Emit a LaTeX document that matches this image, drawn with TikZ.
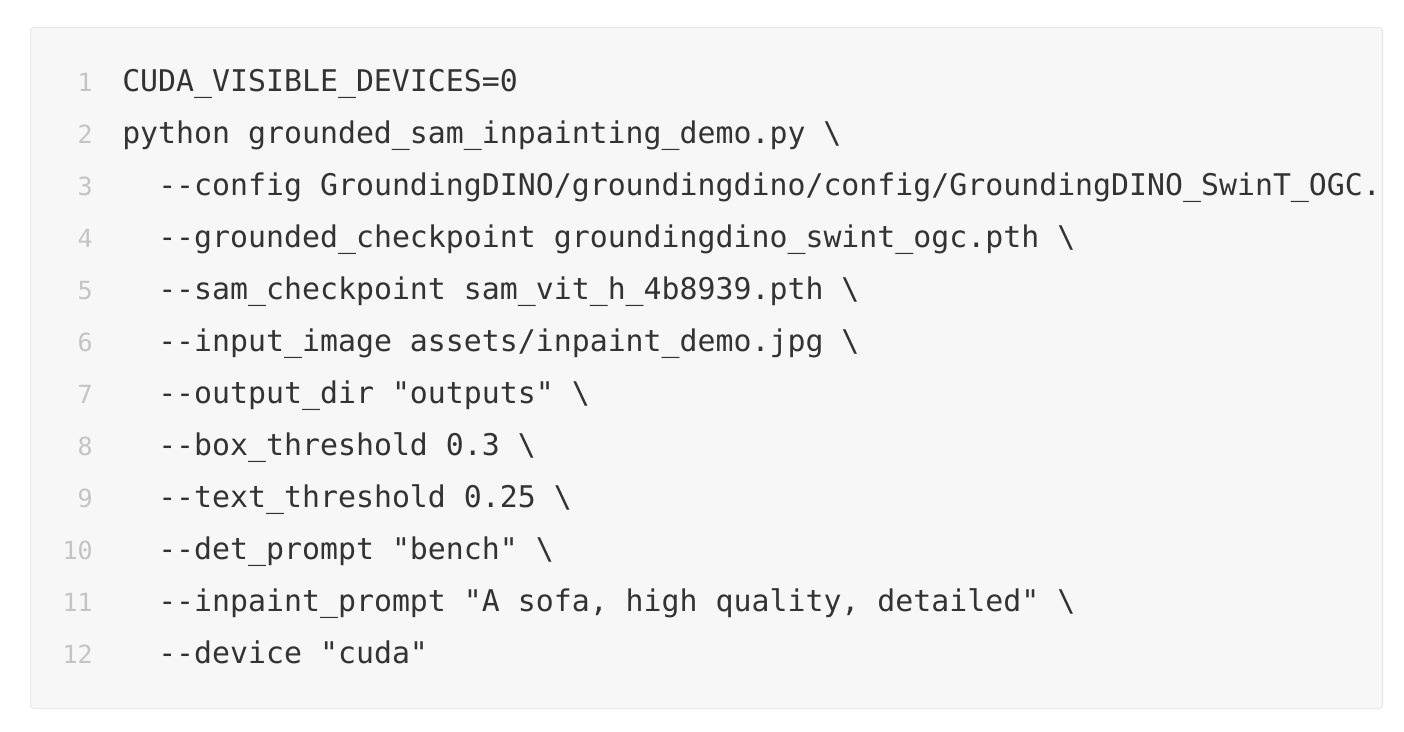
\documentclass[tikz,border=0pt]{standalone}
\usepackage{fontspec}
\setmonofont{DejaVu Sans Mono}
\definecolor{boxfill}{HTML}{F7F7F7}
\definecolor{boxline}{HTML}{E8E8E8}
\definecolor{codetext}{HTML}{333333}
\definecolor{numtext}{HTML}{C4C4C4}
\begin{document}
\begin{tikzpicture}[x=0.75pt,y=-0.75pt,
  codeline/.style={anchor=base west,inner sep=0pt,text=codetext,font=\ttfamily\fontsize{22.4pt}{26pt}\selectfont},
  lnum/.style={anchor=base east,inner sep=0pt,text=numtext,font=\ttfamily\fontsize{18.75pt}{22pt}\selectfont}]
\useasboundingbox (0,0) rectangle (1404,732);
\fill[white] (0,0) rectangle (1404,732);
\node[draw=boxline,fill=boxfill,line width=0.75pt,rounded corners=2.25pt,minimum width=1352*0.75pt,minimum height=681*0.75pt,inner sep=0pt,anchor=north west] (box) at (30,27) {};
\begin{scope}
\clip (30,27) rectangle (1381,708);
\foreach \i/\t/\x in {
 1/{CUDA\_VISIBLE\_DEVICES=0}/122,
 2/{python grounded\_sam\_inpainting\_demo.py \textbackslash}/122,
 3/{--config GroundingDINO/groundingdino/config/GroundingDINO\_SwinT\_OGC.}/158,
 4/{--grounded\_checkpoint groundingdino\_swint\_ogc.pth \textbackslash}/158,
 5/{--sam\_checkpoint sam\_vit\_h\_4b8939.pth \textbackslash}/158,
 6/{--input\_image assets/inpaint\_demo.jpg \textbackslash}/158,
 7/{--output\_dir "outputs" \textbackslash}/158,
 8/{--box\_threshold 0.3 \textbackslash}/158,
 9/{--text\_threshold 0.25 \textbackslash}/158,
 10/{--det\_prompt "bench" \textbackslash}/158,
 11/{--inpaint\_prompt "A sofa, high quality, detailed" \textbackslash}/158,
 12/{--device "cuda"}/158}{
  \node[lnum] (n\i) at (93,{91.5+52*(\i-1)}) {\i};
  \node[codeline] (l\i) at (\x,{91.5+52*(\i-1)}) {\t};
}
\end{scope}
\end{tikzpicture}
\end{document}
